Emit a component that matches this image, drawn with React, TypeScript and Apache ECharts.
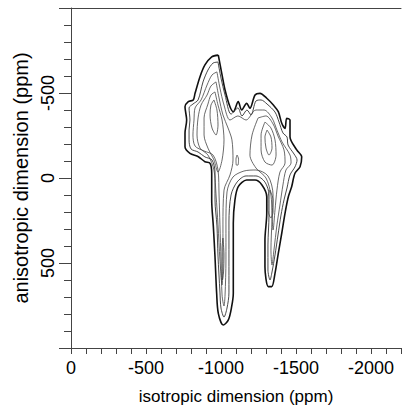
import React, { useEffect, useRef } from "react";
import * as echarts from "echarts";

// axis settings (ppm)
const isoMin = -2200;
const isoMax = 0;
const anisoMin = -1000;
const anisoMax = 1000;
const xTitle = "isotropic dimension (ppm)";
const yTitle = "anisotropic dimension (ppm)";

// contour lines, [isotropic ppm, anisotropic ppm]
const contourOuter: number[][] = [
  [-982, -723], [-1005, -616], [-1027, -518], [-1060, -419], [-1082, -390], [-1115, -449],
  [-1138, -400], [-1171, -439], [-1193, -410], [-1227, -488], [-1260, -498], [-1305, -469],
  [-1349, -429], [-1382, -390], [-1405, -322], [-1427, -292], [-1438, -351], [-1460, -341],
  [-1460, -243], [-1505, -165], [-1538, -125], [-1527, -66], [-1493, -28], [-1471, 51],
  [-1449, 110], [-1427, 206], [-1405, 325], [-1382, 443], [-1360, 561], [-1338, 639],
  [-1315, 639], [-1293, 522], [-1293, 365], [-1305, 208], [-1305, 110], [-1273, 41],
  [-1227, 12], [-1171, 12], [-1115, 51], [-1093, 129], [-1082, 266], [-1082, 463],
  [-1082, 678], [-1071, 757], [-1049, 835], [-1015, 865], [-982, 796], [-971, 678],
  [-960, 463], [-949, 286], [-938, 129], [-938, -28], [-927, -86], [-893, -96],
  [-849, -125], [-793, -145], [-760, -184], [-760, -263], [-771, -341], [-760, -419],
  [-782, -449], [-815, -459], [-827, -498], [-860, -596], [-893, -665], [-938, -713],
];

const contour2: number[][] = [
  [-980, -682], [-1000, -588], [-1027, -488], [-1067, -376], [-1113, -412], [-1140, -365],
  [-1173, -400], [-1200, -371], [-1233, -453], [-1267, -459], [-1307, -435], [-1360, -388],
  [-1387, -329], [-1413, -265], [-1440, -241], [-1447, -194], [-1487, -141], [-1507, -106],
  [-1493, -65], [-1460, -18], [-1440, 59], [-1420, 129], [-1400, 218], [-1380, 335],
  [-1360, 453], [-1340, 553], [-1327, 600], [-1313, 541], [-1313, 394], [-1320, 218],
  [-1320, 100], [-1293, 24], [-1233, -12], [-1167, -12], [-1107, 24], [-1067, 100],
  [-1053, 259], [-1053, 471], [-1053, 676], [-1040, 765], [-1020, 818], [-1000, 765],
  [-993, 671], [-980, 459], [-973, 282], [-960, 129], [-960, -35], [-940, -106],
  [-893, -124], [-847, -153], [-800, -171], [-787, -224], [-787, -282], [-793, -341],
  [-787, -412], [-813, -435], [-847, -459], [-880, -565], [-913, -635], [-947, -676],
];

const contour3: number[][] = [
  [-973, -624], [-993, -529], [-1020, -429], [-1060, -341], [-1113, -365], [-1167, -341],
  [-1233, -400], [-1287, -400], [-1340, -353], [-1373, -282], [-1407, -212], [-1460, -135],
  [-1467, -88], [-1433, -47], [-1413, 41], [-1393, 159], [-1373, 276], [-1353, 424],
  [-1340, 512], [-1333, 424], [-1340, 247], [-1347, 100], [-1313, -12], [-1233, -47],
  [-1153, -41], [-1080, -6], [-1040, 82], [-1033, 276], [-1033, 482], [-1027, 688],
  [-1020, 753], [-1007, 688], [-1000, 482], [-993, 276], [-987, 100], [-980, -47],
  [-947, -135], [-887, -159], [-827, -188], [-813, -253], [-820, -341], [-827, -412],
  [-867, -459], [-907, -547], [-940, -606],
];

const contour4Left: number[][] = [
  [-967, -565], [-987, -471], [-1013, -371], [-1047, -294], [-1073, -224], [-1080, -106],
  [-1060, -18], [-1020, 71], [-1013, 276], [-1013, 482], [-1007, 629], [-993, 482],
  [-980, 276], [-967, 100], [-953, -47], [-913, -135], [-860, -176], [-840, -253],
  [-847, -353], [-867, -429], [-907, -488], [-933, -541],
];

const contour4Right: number[][] = [
  [-1247, -353], [-1300, -365], [-1347, -318], [-1380, -247], [-1420, -165], [-1427, -88],
  [-1393, -35], [-1373, 71], [-1360, 188], [-1347, 306], [-1340, 218], [-1333, 100],
  [-1300, 0], [-1233, -59], [-1193, -135], [-1207, -253],
];

const contour5Left: number[][] = [
  [-960, -506], [-980, -429], [-1007, -341], [-1020, -224], [-1007, -106], [-980, -35],
  [-953, -106], [-913, -176], [-887, -253], [-887, -353], [-913, -435], [-933, -488],
];

const contour6Left: number[][] = [
  [-953, -459], [-973, -400], [-980, -312], [-967, -253], [-940, -294], [-927, -371],
  [-933, -429],
];

const contourLeg: number[][] = [
  [-1013, 353], [-1020, 453], [-1017, 553], [-1010, 600], [-1007, 512], [-1007, 412],
];

const contour5Right: number[][] = [
  [-1293, -329], [-1333, -294], [-1360, -224], [-1367, -135], [-1340, -76], [-1293, -94],
  [-1267, -165], [-1267, -253],
];

const contour6Right: number[][] = [
  [-1307, -282], [-1333, -241], [-1340, -176], [-1320, -135], [-1300, -176], [-1293, -241],
];

const contourRightLow: number[][] = [
  [-1327, 71], [-1347, 129], [-1347, 200], [-1333, 235], [-1313, 188], [-1313, 112],
];

const contourCenter: number[][] = [
  [-1107, -135], [-1117, -112], [-1113, -76], [-1103, -76], [-1100, -112],
];

const contours = [
  { pts: contourOuter, width: 1.6, color: "#111" },
  { pts: contour2, width: 0.9, color: "#333" },
  { pts: contour3, width: 0.8, color: "#444" },
  { pts: contour4Left, width: 0.8, color: "#444" },
  { pts: contour4Right, width: 0.8, color: "#444" },
  { pts: contour5Left, width: 0.8, color: "#444" },
  { pts: contour6Left, width: 0.8, color: "#444" },
  { pts: contourLeg, width: 0.8, color: "#444" },
  { pts: contour5Right, width: 0.8, color: "#444" },
  { pts: contour6Right, width: 0.8, color: "#444" },
  { pts: contourRightLow, width: 0.8, color: "#444" },
  { pts: contourCenter, width: 0.8, color: "#444" },
];

const FONT = "Liberation Sans, Arial, sans-serif";
const AXIS_COLOR = "#444";

export default function App() {
  const ref = useRef<HTMLDivElement>(null);
  useEffect(() => {
    if (!ref.current) return;
    const chart = echarts.init(ref.current, undefined, { renderer: "svg" });
    const series = contours.map((c) => ({
      type: "line",
      xAxisIndex: 0,
      yAxisIndex: 0,
      data: [...c.pts, c.pts[0]],
      showSymbol: false,
      symbol: "none",
      smooth: 0.3,
      silent: true,
      lineStyle: { color: c.color, width: c.width },
    }));
    chart.setOption({
      animation: false,
      backgroundColor: "#fff",
      grid: { left: 71, top: 8, width: 330, height: 340, containLabel: false, outerBoundsMode: "none" },
      xAxis: [
        {
          type: "value",
          position: "bottom",
          min: isoMin,
          max: isoMax,
          interval: 100,
          inverse: true,
          axisLine: { show: true, onZero: false, lineStyle: { color: AXIS_COLOR, width: 1 } },
          axisTick: { show: true, length: 6, lineStyle: { color: AXIS_COLOR } },
          axisLabel: {
            formatter: (v: number) => (v % 500 === 0 ? String(v) : ""),
            fontSize: 18,
            color: "#000",
            fontFamily: FONT,
            margin: 11,
          },
          splitLine: { show: false },
          name: xTitle,
          nameLocation: "middle",
          nameGap: 40,
          nameTextStyle: { fontSize: 17, color: "#000", fontFamily: FONT },
        },
        {
          type: "value",
          position: "top",
          min: isoMin,
          max: isoMax,
          inverse: true,
          axisLine: { show: true, onZero: false, lineStyle: { color: AXIS_COLOR, width: 1 } },
          axisTick: { show: false },
          axisLabel: { show: false },
          splitLine: { show: false },
        },
      ],
      yAxis: [
        {
          type: "value",
          position: "left",
          min: anisoMin,
          max: anisoMax,
          interval: 100,
          inverse: true,
          axisLine: { show: true, onZero: false, lineStyle: { color: AXIS_COLOR, width: 1 } },
          axisTick: { show: true, length: 7, lineStyle: { color: AXIS_COLOR } },
          axisLabel: {
            formatter: (v: number) => (v % 500 === 0 && Math.abs(v) < 1000 ? String(v) : ""),
            rotate: 90,
            fontSize: 18,
            color: "#000",
            fontFamily: FONT,
            margin: 14,
          },
          splitLine: { show: false },
          name: yTitle,
          nameLocation: "middle",
          nameGap: 38,
          nameTextStyle: { fontSize: 20, color: "#000", fontFamily: FONT },
        },
        {
          type: "value",
          position: "left",
          min: anisoMin,
          max: anisoMax,
          interval: 500,
          inverse: true,
          axisLine: { show: false },
          axisTick: { show: true, length: 12, lineStyle: { color: AXIS_COLOR } },
          axisLabel: { show: false },
          splitLine: { show: false },
        },
      ],
      series,
    });
    return () => chart.dispose();
  }, []);
  return (
    <div
      ref={ref}
      style={{ position: "fixed", left: 0, top: 0, width: 409, height: 409, background: "#fff" }}
    />
  );
}
